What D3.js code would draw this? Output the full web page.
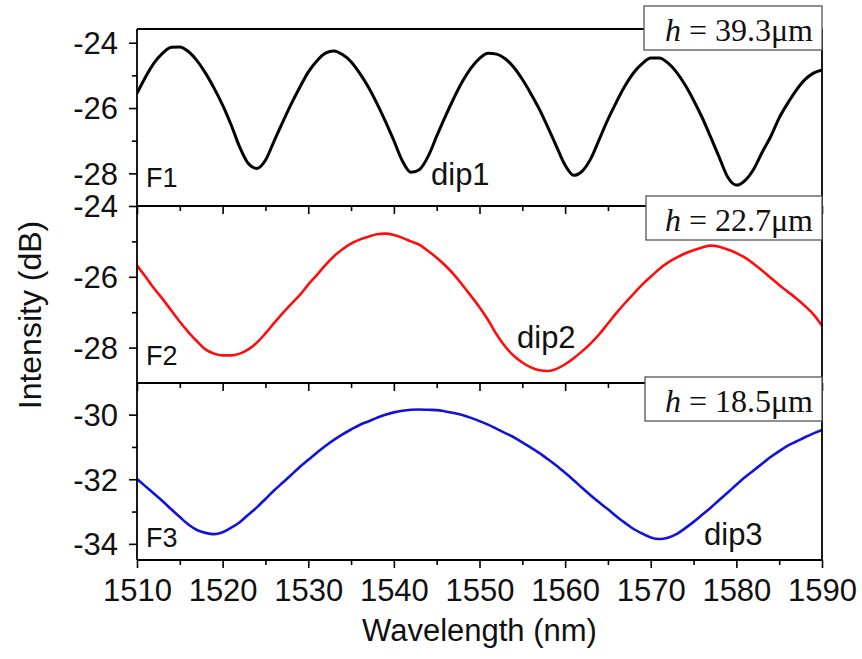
<!DOCTYPE html>
<html><head><meta charset="utf-8">
<script src="https://cdn.jsdelivr.net/npm/d3@7"></script>
<style>
html,body{margin:0;padding:0;background:#fff;}
svg{display:block;}
</style></head>
<body>
<svg id="chart" width="862" height="659"></svg>
<script>
// ---------------- data ----------------
const wavelength = [1510,1511,1512,1513,1514,1515,1516,1517,1518,1519,1520,1521,1522,1523,1524,1525,1526,1527,1528,1529,1530,1531,1532,1533,1534,1535,1536,1537,1538,1539,1540,1541,1542,1543,1544,1545,1546,1547,1548,1549,1550,1551,1552,1553,1554,1555,1556,1557,1558,1559,1560,1561,1562,1563,1564,1565,1566,1567,1568,1569,1570,1571,1572,1573,1574,1575,1576,1577,1578,1579,1580,1581,1582,1583,1584,1585,1586,1587,1588,1589,1590];

const f1 = [-25.55,-25.05,-24.62,-24.32,-24.14,-24.13,-24.27,-24.55,-24.93,-25.39,-25.91,-26.52,-27.20,-27.70,-27.85,-27.60,-27.02,-26.44,-25.88,-25.37,-24.90,-24.56,-24.32,-24.25,-24.36,-24.58,-24.93,-25.35,-25.85,-26.40,-27.00,-27.62,-27.97,-27.88,-27.48,-26.86,-26.26,-25.70,-25.19,-24.78,-24.48,-24.32,-24.35,-24.49,-24.75,-25.12,-25.56,-26.04,-26.60,-27.18,-27.75,-28.06,-27.93,-27.55,-26.95,-26.35,-25.81,-25.32,-24.92,-24.64,-24.47,-24.47,-24.62,-24.90,-25.29,-25.76,-26.29,-26.89,-27.51,-28.12,-28.36,-28.22,-27.88,-27.36,-26.88,-26.30,-25.85,-25.45,-25.13,-24.93,-24.83];

const f2 = [-25.68,-26.00,-26.33,-26.63,-26.95,-27.27,-27.56,-27.82,-28.05,-28.17,-28.22,-28.22,-28.17,-28.05,-27.86,-27.60,-27.31,-27.03,-26.77,-26.52,-26.22,-25.95,-25.67,-25.42,-25.22,-25.06,-24.95,-24.87,-24.80,-24.78,-24.82,-24.90,-25.00,-25.10,-25.27,-25.46,-25.68,-25.93,-26.23,-26.54,-26.86,-27.22,-27.63,-27.97,-28.23,-28.42,-28.56,-28.64,-28.66,-28.60,-28.47,-28.30,-28.10,-27.88,-27.62,-27.32,-27.02,-26.74,-26.48,-26.22,-26.00,-25.78,-25.60,-25.46,-25.34,-25.25,-25.17,-25.12,-25.15,-25.23,-25.33,-25.46,-25.63,-25.82,-26.03,-26.23,-26.42,-26.61,-26.82,-27.06,-27.38];

const f3 = [-31.99,-32.22,-32.45,-32.68,-32.93,-33.17,-33.40,-33.57,-33.66,-33.70,-33.64,-33.50,-33.33,-33.10,-32.87,-32.61,-32.35,-32.11,-31.87,-31.62,-31.40,-31.18,-30.97,-30.78,-30.61,-30.46,-30.32,-30.21,-30.10,-30.00,-29.93,-29.88,-29.85,-29.84,-29.85,-29.86,-29.90,-29.95,-30.01,-30.10,-30.20,-30.31,-30.44,-30.57,-30.70,-30.86,-31.02,-31.19,-31.38,-31.58,-31.80,-32.03,-32.27,-32.50,-32.72,-32.93,-33.15,-33.35,-33.54,-33.68,-33.80,-33.85,-33.81,-33.70,-33.52,-33.32,-33.10,-32.88,-32.64,-32.41,-32.17,-31.94,-31.73,-31.52,-31.31,-31.13,-30.96,-30.83,-30.70,-30.58,-30.47];

const xMajorTicks = [1510,1520,1530,1540,1550,1560,1570,1580,1590];
const xMinorTicks = [1515,1525,1535,1545,1555,1565,1575,1585];
const y1Major = [-24,-26,-28];
const y1Minor = [-25,-27];
const y2Major = [-24,-26,-28];
const y2Minor = [-25,-27];
const y3Major = [-30,-32,-34];
const y3Minor = [-31,-33];
const panelNames = ["F1","F2","F3"];
const dipNames = ["dip1","dip2","dip3"];
const heightLabels = ["39.3μm","22.7μm","18.5μm"];
const seriesColors = ["#000000","#ff0d0d","#1212dc"];
const xTitle = "Wavelength (nm)";
const yTitle = "Intensity (dB)";

// ---------------- layout ----------------
const svg = d3.select("#chart");
const L = 137, R = 822;
const x = d3.scaleLinear().domain([1510,1590]).range([L,R]);

const panels = [
  {data:f1, dom:[-29.0,-23.58], rng:[206,29],  maj:y1Major, min:y1Minor,
   name:{x:146,y:187}, dip:{x:431,y:185}, box:{x:644,y:6,w:178,h:44,base:40.5}, lw:3},
  {data:f2, dom:[-29.0,-24.0],  rng:[383,206], maj:y2Major, min:y2Minor,
   name:{x:146,y:365}, dip:{x:517,y:348}, box:{x:646,y:196,w:176,h:44,base:230.5}, lw:2.6},
  {data:f3, dom:[-34.5,-29.02], rng:[560,383], maj:y3Major, min:y3Minor,
   name:{x:146,y:547}, dip:{x:704,y:545}, box:{x:645,y:377,w:177,h:44,base:411.5}, lw:2.6}
];

const sans = "'Liberation Sans', Arial, sans-serif";
const serif = "'Liberation Serif', 'Times New Roman', serif";

panels.forEach((p,i) => {
  const y = d3.scaleLinear().domain(p.dom).range(p.rng);
  const g = svg.append("g");

  const cid = "clip"+i;
  svg.append("clipPath").attr("id",cid).append("rect")
    .attr("x",L).attr("y",p.rng[1]).attr("width",R-L).attr("height",p.rng[0]-p.rng[1]);

  const line = d3.line()
    .x((d,k)=>x(wavelength[k]))
    .y(d=>y(d))
    .curve(d3.curveMonotoneX);
  g.append("path").datum(p.data)
    .attr("clip-path","url(#"+cid+")")
    .attr("fill","none")
    .attr("stroke",seriesColors[i])
    .attr("stroke-width",p.lw)
    .attr("stroke-linejoin","round")
    .attr("d",line);

  const ya = g.append("g").attr("transform",`translate(${L},0)`)
    .call(d3.axisLeft(y).tickValues(p.maj).tickSize(8).tickPadding(11).tickFormat(d=>String(d)));
  ya.select(".domain").remove();
  ya.selectAll("line").attr("stroke","#000").attr("stroke-width",1.6);
  ya.selectAll("text").attr("font-family",sans).attr("font-size",31).attr("fill","#111")
    .attr("dy","0.35em");
  const ym = g.append("g").attr("transform",`translate(${L},0)`)
    .call(d3.axisLeft(y).tickValues(p.min).tickSize(5).tickFormat(""));
  ym.select(".domain").remove();
  ym.selectAll("line").attr("stroke","#000").attr("stroke-width",1.6);

  const xa = g.append("g").attr("transform",`translate(0,${p.rng[0]})`)
    .call(d3.axisBottom(x).tickValues(xMajorTicks).tickSize(8).tickPadding(11)
      .tickFormat(i===2 ? (d=>String(d)) : ""));
  xa.select(".domain").remove();
  xa.selectAll("line").attr("stroke","#000").attr("stroke-width",1.6);
  xa.selectAll("text").attr("font-family",sans).attr("font-size",31).attr("fill","#111");
  const xm = g.append("g").attr("transform",`translate(0,${p.rng[0]})`)
    .call(d3.axisBottom(x).tickValues(xMinorTicks).tickSize(5).tickFormat(""));
  xm.select(".domain").remove();
  xm.selectAll("line").attr("stroke","#000").attr("stroke-width",1.6);

  svg.append("line").attr("x1",L).attr("x2",R).attr("y1",p.rng[0]).attr("y2",p.rng[0])
    .attr("stroke","#000").attr("stroke-width",1.8);

  svg.append("text").attr("x",p.name.x).attr("y",p.name.y).text(panelNames[i])
    .attr("font-family",sans).attr("font-size",27).attr("fill","#111");
  svg.append("text").attr("x",p.dip.x).attr("y",p.dip.y).text(dipNames[i])
    .attr("font-family",sans).attr("font-size",31).attr("fill","#111");
});

// frame
svg.append("line").attr("x1",L).attr("x2",R).attr("y1",29).attr("y2",29).attr("stroke","#000").attr("stroke-width",1.8);
svg.append("line").attr("x1",L).attr("x2",L).attr("y1",29).attr("y2",560).attr("stroke","#000").attr("stroke-width",1.8);
svg.append("line").attr("x1",R).attr("x2",R).attr("y1",29).attr("y2",560).attr("stroke","#000").attr("stroke-width",1.8);

// boxes
panels.forEach((p,i) => {
  const b = p.box;
  svg.append("rect").attr("x",b.x).attr("y",b.y).attr("width",b.w).attr("height",b.h)
    .attr("fill","#fff").attr("stroke","#555").attr("stroke-width",1.3);
  const t = svg.append("text").attr("x",b.x+b.w-9).attr("y",b.base)
    .attr("text-anchor","end").attr("font-family",serif).attr("font-size",32).attr("fill","#111");
  t.append("tspan").attr("font-style","italic").text("h");
  t.append("tspan").text(" = "+heightLabels[i]);
});

// axis titles
svg.append("text").attr("x",(L+R)/2).attr("y",641).attr("text-anchor","middle")
  .attr("font-family",sans).attr("font-size",31).attr("fill","#111").text(xTitle);
svg.append("text").attr("transform","translate(41,315) rotate(-90)").attr("text-anchor","middle")
  .attr("font-family",sans).attr("font-size",32).attr("fill","#111").text(yTitle);
</script>
</body></html>
